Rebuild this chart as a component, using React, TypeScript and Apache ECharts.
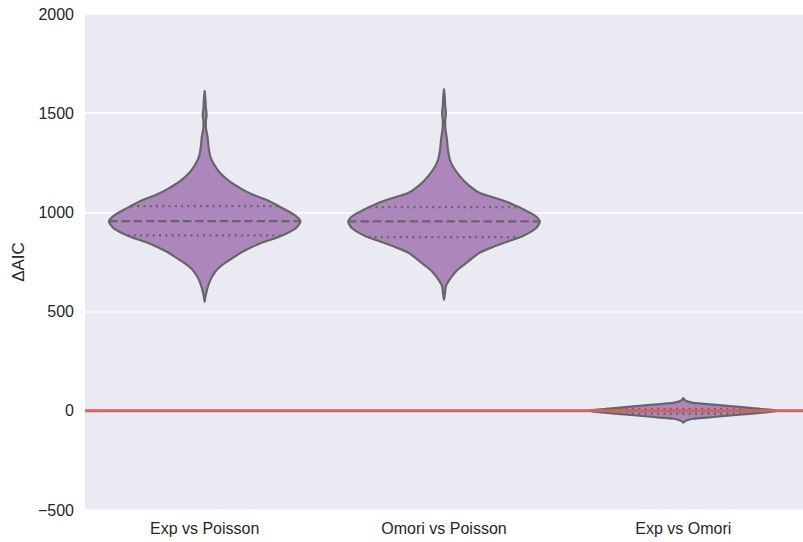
import React, { useEffect, useRef } from "react";
import * as echarts from "echarts";

const categories = ["Exp vs Poisson", "Omori vs Poisson", "Exp vs Omori"];

const yTicks = { min: -500, max: 2000, interval: 500 };

// Violin 1: Exp vs Poisson (value, relative density)
const expPoissonValues = [550, 580, 620, 660, 700, 730, 760, 800, 840, 880, 920, 955, 990, 1030, 1060, 1090, 1120, 1160, 1200, 1240, 1280, 1330, 1380, 1420, 1460, 1490, 1530, 1570, 1612];
const expPoissonDensity = [0, 0.01, 0.03, 0.06, 0.11, 0.17, 0.26, 0.39, 0.56, 0.79, 0.95, 1.0, 0.93, 0.78, 0.66, 0.5, 0.38, 0.25, 0.16, 0.1, 0.06, 0.04, 0.03, 0.015, 0.012, 0.02, 0.012, 0.008, 0];
const expPoissonQuartiles = [884, 956, 1032];

// Violin 2: Omori vs Poisson
const omoriPoissonValues = [560, 590, 628, 662, 700, 729, 760, 796, 820, 847, 880, 920, 955, 990, 1027, 1049, 1075, 1099, 1140, 1183, 1230, 1268, 1320, 1370, 1420, 1460, 1500, 1540, 1580, 1620];
const omoriPoissonDensity = [0, 0.01, 0.02, 0.06, 0.12, 0.19, 0.27, 0.37, 0.48, 0.63, 0.82, 0.96, 1.0, 0.93, 0.78, 0.68, 0.52, 0.37, 0.25, 0.165, 0.095, 0.06, 0.04, 0.03, 0.015, 0.012, 0.02, 0.012, 0.008, 0];
const omoriPoissonQuartiles = [875, 955, 1027];

// Violin 3: Exp vs Omori
const expOmoriValues = [-60, -52, -46, -40, -30, -20, -10, 0, 10, 20, 30, 40, 46, 52, 64];
const expOmoriDensity = [0, 0.02, 0.05, 0.1, 0.34, 0.58, 0.8, 1.0, 0.8, 0.58, 0.34, 0.1, 0.05, 0.02, 0];
const expOmoriQuartiles = [-16, -2, 10];

const zeroLineX = [0, 1];
const zeroLineY = [0, 0];

const profiles = [
  { values: expPoissonValues, density: expPoissonDensity, quartiles: expPoissonQuartiles },
  { values: omoriPoissonValues, density: omoriPoissonDensity, quartiles: omoriPoissonQuartiles },
  { values: expOmoriValues, density: expOmoriDensity, quartiles: expOmoriQuartiles },
];

const FONT = "'Liberation Sans', Arial, sans-serif";
const FILL = "#AD86BC";
const EDGE = "#666666";

function densityAt(values: number[], density: number[], q: number) {
  for (let i = 0; i < values.length - 1; i++) {
    if (q >= values[i] && q <= values[i + 1]) {
      const t = (q - values[i]) / (values[i + 1] - values[i]);
      return density[i] + t * (density[i + 1] - density[i]);
    }
  }
  return 0;
}

const fmt = (v: number) => (v < 0 ? "\u2212" + Math.abs(v) : String(v));

export default function App() {
  const ref = useRef<HTMLDivElement>(null);
  useEffect(() => {
    document.body.style.margin = "0";
    if (!ref.current) return;
    const chart = echarts.init(ref.current, undefined, { renderer: "svg" });
    const renderItem = (params: any, api: any) => {
      const idx = params.dataIndex;
      const prof = profiles[idx];
      const band = api.size([1, 0])[0];
      const half = band * 0.4;
      const cx = api.coord([idx, 0])[0];
      const right = prof.values.map((v, i) => [cx + prof.density[i] * half, api.coord([idx, v])[1]]);
      const left = prof.values.map((v, i) => [cx - prof.density[i] * half, api.coord([idx, v])[1]]).reverse();
      const children: any[] = [
        {
          type: "polygon",
          shape: { points: right.concat(left), smooth: 0.25 },
          style: { fill: FILL, stroke: EDGE, lineWidth: 2.2, lineJoin: "round" },
        },
      ];
      prof.quartiles.forEach((q, qi) => {
        const w = densityAt(prof.values, prof.density, q) * half;
        const y = api.coord([idx, q])[1];
        children.push({
          type: "line",
          shape: { x1: cx - w, y1: y, x2: cx + w, y2: y },
          style: {
            stroke: EDGE,
            lineWidth: 2.2,
            lineDash: qi === 1 ? [8.3, 4] : [2, 4.3],
          },
        });
      });
      return { type: "group", children };
    };
    chart.setOption({
      animation: false,
      backgroundColor: "#ffffff",
      grid: {
        left: 85,
        right: -4,
        top: 14,
        bottom: 32,
        show: true,
        backgroundColor: "#EAEAF2",
        borderWidth: 0,
      },
      xAxis: [
        {
          type: "category",
          data: categories,
          axisLine: { show: false },
          axisTick: { show: false },
          splitLine: { show: false },
          axisLabel: { color: "#262626", fontSize: 16, fontFamily: FONT, margin: 10 },
        },
        { type: "value", min: 0, max: 1, show: false },
      ],
      yAxis: {
        type: "value",
        min: yTicks.min,
        max: yTicks.max,
        interval: yTicks.interval,
        name: "ΔAIC",
        nameLocation: "middle",
        nameGap: 57,
        nameTextStyle: { color: "#262626", fontSize: 17, fontFamily: FONT },
        axisLine: { show: false },
        axisTick: { show: false },
        splitLine: { lineStyle: { color: "#ffffff", width: 1.6 } },
        axisLabel: { color: "#262626", fontSize: 16, fontFamily: FONT, margin: 11, formatter: fmt },
      },
      series: [
        {
          type: "custom",
          renderItem,
          data: categories.map((c, i) => [i, profiles[i].quartiles[1]]),
          encode: { x: 0, y: 1 },
          z: 2,
        },
        {
          type: "line",
          xAxisIndex: 1,
          data: zeroLineX.map((x, i) => [x, zeroLineY[i]]),
          symbol: "none",
          lineStyle: { color: "#D9605E", width: 3 },
          z: 5,
          silent: true,
        },
      ],
    });
    return () => chart.dispose();
  }, []);
  return <div ref={ref} style={{ width: 803, height: 542 }} />;
}
